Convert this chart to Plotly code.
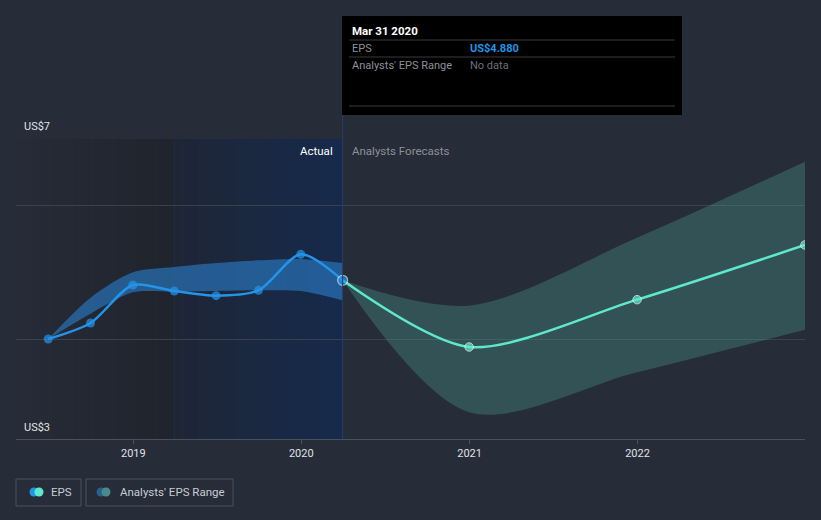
import plotly.graph_objects as go
import pandas as pd

# ---------------- data ----------------
actual_dates = ['2018-06-30', '2018-09-30', '2018-12-31', '2019-03-31',
                '2019-06-30', '2019-09-30', '2019-12-31', '2020-03-31']
actual_eps = [4.00, 4.24, 4.81, 4.72, 4.65, 4.73, 5.27, 4.88]

past_range_upper = [4.00, 4.62, 5.00, 5.08, 5.14, 5.18, 5.20, 5.14]
past_range_lower = [4.00, 4.38, 4.70, 4.71, 4.72, 4.73, 4.72, 4.58]

forecast_dates = ['2020-03-31', '2020-12-31', '2021-12-31', '2022-12-31']
forecast_eps = [4.88, 3.88, 4.59, 5.41]
forecast_upper = [4.88, 4.50, 5.52, 6.66]
forecast_lower = [4.88, 2.90, 3.50, 4.14]

year_ticks = ['2019-01-01', '2020-01-01', '2021-01-01', '2022-01-01']
year_labels = ['2019', '2020', '2021', '2022']
grid_values = [4, 6, 7]

x_start, x_end = '2018-04-21', '2022-12-31'
past_year_start, last_actual = '2019-03-31', '2020-03-31'

# ---------------- styling ----------------
BG = '#262c38'
FONT = 'Roboto'
W, H = 821, 520
L, R, T, B = 16, 16, 139, 81
PW, PH = W - L - R, H - T - B


def px(x):
    return (x - L) / PW


def py(y):
    return (H - B - y) / PH


def mix(c1, c2, t):
    return 'rgb(%d,%d,%d)' % tuple(round(a + (b - a) * t) for a, b in zip(c1, c2))


fig = go.Figure()

shapes = []
# gradient background regions (overlapping strips, no seams)
n = 30
edges = pd.date_range(x_start, past_year_start, periods=n + 1)
for i in range(n):
    shapes.append(dict(type='rect', xref='x', yref='paper', x0=edges[i], x1=past_year_start,
                       y0=0, y1=1, layer='below', line_width=0,
                       fillcolor=mix((38, 43, 55), (32, 36, 45), i / (n - 1))))
edges = pd.date_range(past_year_start, last_actual, periods=n + 1)
for i in range(n):
    shapes.append(dict(type='rect', xref='x', yref='paper', x0=edges[i], x1=last_actual,
                       y0=0, y1=1, layer='below', line_width=0,
                       fillcolor=mix((30, 38, 54), (22, 42, 76), i / (n - 1))))
shapes.append(dict(type='line', xref='x', yref='paper', x0=past_year_start, x1=past_year_start,
                   y0=0, y1=1, layer='below', line=dict(color='#222d42', width=1)))
shapes.append(dict(type='line', xref='x', yref='paper', x0=last_actual, x1=last_actual,
                   y0=0, y1=py(115), line=dict(color='#2a3e62', width=1)))

# tooltip box
shapes.append(dict(type='rect', xref='paper', yref='paper', x0=px(342), x1=px(682),
                   y0=py(115), y1=py(16), fillcolor='#000000', line_width=0))
for yy in (40, 57, 106):
    shapes.append(dict(type='line', xref='paper', yref='paper', x0=px(349), x1=px(675),
                       y0=py(yy), y1=py(yy), line=dict(color='#3a3a3a', width=1)))

# legend boxes
for x0, x1 in ((16, 81), (86, 233)):
    shapes.append(dict(type='rect', xref='paper', yref='paper', x0=px(x0), x1=px(x1),
                       y0=py(506), y1=py(479), line=dict(color='#4a505c', width=1),
                       fillcolor='rgba(0,0,0,0)'))
for cx, col in ((34, '#2394e8'), (39, '#5ee8cc'), (101, '#2b5f8c'), (106, '#4a8a8a')):
    r = 4.5
    shapes.append(dict(type='circle', xref='paper', yref='paper', x0=px(cx - r), x1=px(cx + r),
                       y0=py(492 + r), y1=py(492 - r), fillcolor=col, line_width=0))

# ---------------- traces ----------------
# past range band
fig.add_trace(go.Scatter(x=actual_dates, y=past_range_lower, mode='lines',
                         line=dict(width=0, shape='spline', smoothing=0.8),
                         hoverinfo='skip', showlegend=False))
fig.add_trace(go.Scatter(x=actual_dates, y=past_range_upper, mode='lines', fill='tonexty',
                         fillcolor='rgba(40,112,180,0.72)',
                         line=dict(width=0, shape='spline', smoothing=0.8),
                         hoverinfo='skip', showlegend=False))
# forecast band
fig.add_trace(go.Scatter(x=forecast_dates, y=forecast_lower, mode='lines',
                         line=dict(width=0, shape='spline', smoothing=0.9),
                         hoverinfo='skip', showlegend=False))
fig.add_trace(go.Scatter(x=forecast_dates, y=forecast_upper, mode='lines', fill='tonexty',
                         fillcolor='rgba(80,160,150,0.33)',
                         line=dict(width=0, shape='spline', smoothing=0.9),
                         hoverinfo='skip', showlegend=False))
# forecast EPS line
fig.add_trace(go.Scatter(x=forecast_dates, y=forecast_eps, mode='lines+markers',
                         line=dict(color='#5ee8cc', width=2.5, shape='spline', smoothing=0.8),
                         marker=dict(size=[0, 8.5, 8.5, 8.5], color='#5ee8cc'),
                         showlegend=False))
# actual EPS line
fig.add_trace(go.Scatter(x=actual_dates, y=actual_eps, mode='lines+markers',
                         line=dict(color='#2394e8', width=2.5, shape='spline', smoothing=0.8),
                         marker=dict(size=[9] * 7 + [10], color='#2394e8',
                                     line=dict(color=['#2394e8'] * 7 + ['#d8ecff'],
                                               width=[0] * 7 + [1.2])),
                         showlegend=False))

# ---------------- annotations ----------------
ann = []


def text(x, y, s, color, size=11, anchor='left', bold=False):
    ann.append(dict(xref='paper', yref='paper', x=px(x), y=py(y), text=('<b>%s</b>' % s) if bold else s,
                    showarrow=False, xanchor=anchor, yanchor='middle',
                    font=dict(family=FONT, size=size, color=color)))


text(350, 31, 'Mar 31 2020', '#ffffff', 11.5, bold=True)
text(350, 48, 'EPS', '#8c9099', 11)
text(468, 48, 'US$4.880', '#2394e8', 11, bold=True)
text(350, 65, "Analysts' EPS Range", '#8c9099', 11)
text(468, 65, 'No data', '#6c7079', 11)
text(335, 151, 'Actual', '#ffffff', 11.5, anchor='right')
text(350, 151, 'Analysts Forecasts', '#8c9099', 11.5)
text(22, 127, 'US$7', '#e0e2e6', 11)
text(22, 427, 'US$3', '#e0e2e6', 11)
text(49, 492, 'EPS', '#c8ccd3', 11.5)
text(118, 492, "Analysts' EPS Range", '#c8ccd3', 11.5)

fig.update_layout(
    width=W, height=H,
    margin=dict(l=L, r=R, t=T, b=B),
    paper_bgcolor=BG, plot_bgcolor=BG,
    shapes=shapes, annotations=ann,
    showlegend=False,
    hovermode=False,
    xaxis=dict(type='date', range=[x_start, x_end], tickvals=year_ticks, ticktext=year_labels,
               showgrid=False, zeroline=False, showline=True, linecolor='#4a505c', linewidth=1,
               ticks='outside', ticklen=4, tickcolor='#4a505c',
               tickfont=dict(family=FONT, size=11, color='#e0e2e6')),
    yaxis=dict(range=[2.5, 7], tickvals=grid_values, showticklabels=False,
               showgrid=True, gridcolor='#3a404c', gridwidth=1, zeroline=False, showline=False),
)

fig.write_html('out.html')
